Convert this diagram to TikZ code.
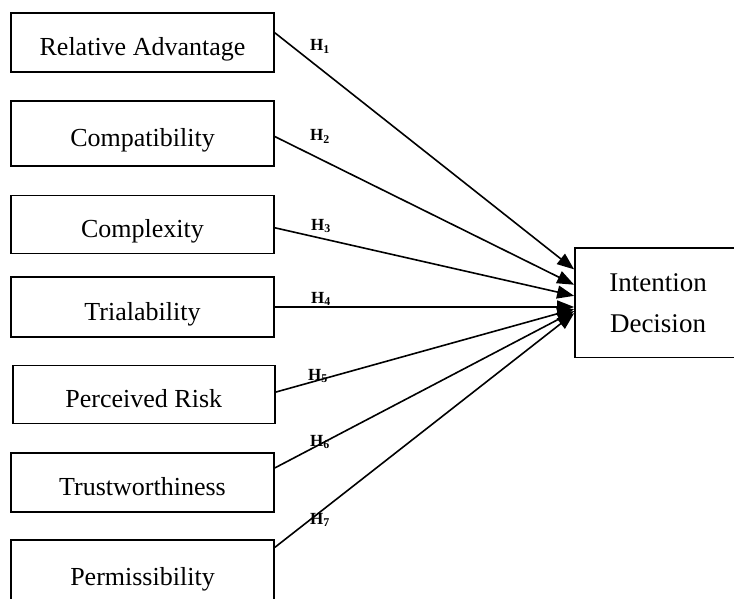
\documentclass[tikz,border=0pt]{standalone}
\usepackage{fontspec}
\setmainfont{Liberation Serif}
\usetikzlibrary{arrows.meta,calc}
\begin{document}
\begin{tikzpicture}[x=1pt,y=-1pt,
  srcbox/.style={draw, line width=1.7pt, minimum width=263pt, minimum height=59pt,
    inner sep=0pt, font=\fontsize{26}{30}\selectfont, text height=27pt, text depth=1pt},
  tgtbox/.style={draw, line width=1.7pt, minimum width=166pt, minimum height=109.5pt,
    inner sep=0pt, align=center, font=\fontsize{27}{41}\selectfont},
  arr/.style={line width=1.6pt, -{Triangle[length=17pt,width=13pt]}},
  hlab/.style={anchor=base west, inner sep=0pt, font=\fontsize{17}{17}\selectfont\bfseries}
]
\useasboundingbox (0,0) rectangle (734,599);
\clip (0,0) rectangle (734,599);

\node[srcbox] (b1) at (142.5,42.5) {Relative Advantage};
\node[srcbox, minimum height=65pt] (b2) at (142.5,133.5) {Compatibility};
\node[srcbox, minimum height=58pt] (b3) at (142.5,224.5) {Complexity};
\node[srcbox, minimum height=60pt] (b4) at (142.5,307) {Trialability};
\node[srcbox, minimum height=58pt, minimum width=262pt] (b5) at (143.8,394.5) {Perceived Risk};
\node[srcbox] (b6) at (142.5,482.5) {Trustworthiness};
\node[srcbox, minimum height=64pt] (b7) at (142.5,572) {Permissibility};

\node[tgtbox] (t) at (658,302.75) {Intention\\Decision};

\coordinate (s1) at ($(b1.north east)!0.34!(b1.south east)$);
\coordinate (s2) at ($(b2.north east)!0.546!(b2.south east)$);
\coordinate (s3) at ($(b3.north east)!0.555!(b3.south east)$);
\coordinate (s4) at ($(b4.north east)!0.5!(b4.south east)$);
\coordinate (s5) at ($(b5.north east)!0.46!(b5.south east)$);
\coordinate (s6) at ($(b6.north east)!0.26!(b6.south east)$);
\coordinate (s7) at ($(b7.north east)!0.125!(b7.south east)$);

\coordinate (e1) at ($(t.north west)!0.20!(t.south west)$);
\coordinate (e2) at ($(t.north west)!0.338!(t.south west)$);
\coordinate (e3) at ($(t.north west)!0.438!(t.south west)$);
\coordinate (e4) at (t.west |- s4);
\coordinate (e5) at ($(t.north west)!0.557!(t.south west)$);
\coordinate (e6) at ($(t.north west)!0.575!(t.south west)$);
\coordinate (e7) at ($(t.north west)!0.594!(t.south west)$);

\foreach \i in {1,...,7} {
  \draw[arr] (s\i) -- (e\i);
}

\node[hlab] (h1) at (310,51) {H\textsubscript{1}};
\node[hlab] (h2) at (310,141) {H\textsubscript{2}};
\node[hlab] (h3) at (311,230) {H\textsubscript{3}};
\node[hlab] (h4) at (311,303) {H\textsubscript{4}};
\node[hlab] (h5) at (308,380) {H\textsubscript{5}};
\node[hlab] (h6) at (310,446) {H\textsubscript{6}};
\node[hlab] (h7) at (310,524) {H\textsubscript{7}};
\end{tikzpicture}
\end{document}
